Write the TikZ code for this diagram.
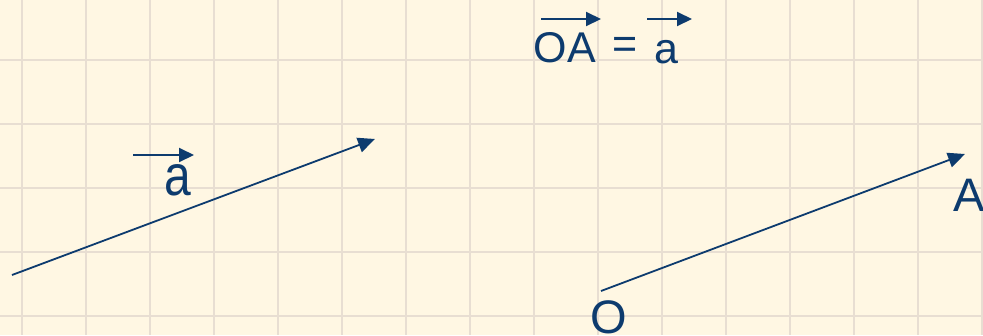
\documentclass[tikz,border=0pt]{standalone}
\usepackage{fontspec}
\setmainfont{Liberation Sans}
\usetikzlibrary{arrows.meta}
\definecolor{bgcream}{HTML}{FFF7E3}
\definecolor{gridcol}{HTML}{E8DED2}
\definecolor{navy}{HTML}{0D3B6E}
\tikzset{
  vec/.style={draw=navy, line width=1.8pt, -{Triangle[length=17pt,width=15pt]}},
  overarr/.style={draw=navy, line width=2pt, -{Triangle[length=15pt,width=14pt]}},
  lbl/.style={text=navy, inner sep=0pt, font=\fontsize{46}{46}\selectfont},
}
\begin{document}
\begin{tikzpicture}[x=1pt,y=-1pt]
\fill[bgcream] (0,0) rectangle (983,335);
\useasboundingbox (0,0) rectangle (983,335);
\foreach \gx in {22,86,...,982} \draw[gridcol, line width=2pt] (\gx,0) -- (\gx,335);
\foreach \gy in {60,124,...,316} \draw[gridcol, line width=2pt] (0,\gy) -- (983,\gy);
% left vector
\coordinate (p0) at (12,275);
\coordinate (p1) at (375,139);
\draw[vec] (p0) -- (p1);
\node[lbl, font=\fontsize{48}{48}\selectfont] (la) at (178,180.5) {\scalebox{1}[1.2]{a}};
\coordinate (la0) at (133,155);
\coordinate (la1) at (194,155);
\draw[overarr] (la0) -- (la1);
% right vector
\node[lbl, font=\fontsize{47}{47}\selectfont] (O) at (608.5,317) {O};
\node[lbl, font=\fontsize{47}{47}\selectfont] (A) at (969,195.5) {A};
\coordinate (q0) at (601,291);
\coordinate (q1) at (965,154);
\draw[vec] (q0) -- (q1);
% equation
\node[lbl, font=\fontsize{43}{43}\selectfont] (oa) at (565,47.5) {OA};
\node[lbl, font=\fontsize{43}{43}\selectfont] (eq) at (625,47.5) {=};
\node[lbl, font=\fontsize{43}{43}\selectfont, anchor=base] (ea) at (666.5,63) {a};
\coordinate (oa0) at (541,19);
\coordinate (oa1) at (601,19);
\draw[overarr] (oa0) -- (oa1);
\coordinate (ea0) at (647,19);
\coordinate (ea1) at (692,19);
\draw[overarr] (ea0) -- (ea1);
\end{tikzpicture}
\end{document}
